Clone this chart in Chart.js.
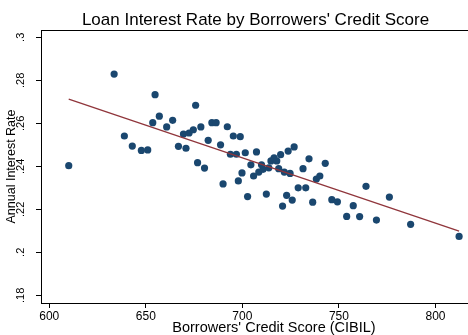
<!DOCTYPE html>
<html>
<head>
<meta charset="utf-8">
<script src="https://cdn.jsdelivr.net/npm/chart.js@4/dist/chart.umd.min.js"></script>
<style>
  html, body { margin: 0; padding: 0; background: #fff; overflow: hidden; }
  #wrap { width: 511px; height: 335px; }
</style>
</head>
<body>
<div id="wrap"><canvas id="c" width="511" height="335"></canvas></div>
<script>
// Borrowers' CIBIL credit score and the annual interest rate they pay
const creditScore = [
  610.1, 633.6, 638.9, 643.0, 647.7, 651.0, 653.6, 654.8, 657.0, 660.8,
  663.9, 666.9, 669.5, 670.8, 672.4, 674.6, 675.8, 676.8, 678.5, 680.4,
  682.3, 684.2, 686.4, 688.7, 690.0, 692.2, 693.8, 695.3, 696.9, 697.9,
  698.9, 699.8, 701.5, 702.7, 704.4, 705.8, 707.3, 708.5, 709.9, 710.7,
  712.4, 713.7, 714.8, 716.4, 717.8, 718.8, 719.8, 720.8, 721.7, 722.9,
  723.7, 724.7, 725.8, 726.8, 728.9, 731.4, 732.8, 734.5, 736.4, 738.3,
  740.1, 742.9, 746.3, 749.2, 754.0, 757.4, 760.7, 764.0, 769.4, 776.1,
  787.1, 812.2
];
const interestRate = [
  0.2403, 0.2829, 0.2541, 0.2494, 0.2474, 0.2476, 0.2603, 0.2733, 0.2633, 0.2583,
  0.2614, 0.2493, 0.2550, 0.2484, 0.2555, 0.2570, 0.2684, 0.2417, 0.2583, 0.2392,
  0.2521, 0.2603, 0.2603, 0.2500, 0.2318, 0.2584, 0.2456, 0.2541, 0.2456, 0.2332,
  0.2538, 0.2369, 0.2463, 0.2259, 0.2407, 0.2355, 0.2467, 0.2373, 0.2407, 0.2386,
  0.2271, 0.2393, 0.2425, 0.2439, 0.2425, 0.2389, 0.2454, 0.2215, 0.2373, 0.2265,
  0.2471, 0.2367, 0.2243, 0.2490, 0.2300, 0.2389, 0.2300, 0.2435, 0.2233, 0.2341,
  0.2355, 0.2414, 0.2245, 0.2235, 0.2167, 0.2217, 0.2166, 0.2307, 0.2150, 0.2257,
  0.2130, 0.2074
];

// Linear fit endpoints
const fitScore = [610.1, 812.2];
const fitRate = [0.2712, 0.2099];

// Axis ticks
const xTicks = [600, 650, 700, 750, 800];
const yTicks = [0.18, 0.20, 0.22, 0.24, 0.26, 0.28, 0.30];
const yTickLabels = ['.18', '.2', '.22', '.24', '.26', '.28', '.3'];

const FONT = "'Liberation Sans', Arial, Helvetica, sans-serif";
const points = creditScore.map((s, i) => ({ x: s, y: interestRate[i] }));
const fitLine = fitScore.map((s, i) => ({ x: s, y: fitRate[i] }));

new Chart(document.getElementById('c'), {
  type: 'scatter',
  data: {
    datasets: [
      {
        type: 'line',
        data: fitLine,
        borderColor: '#90353b',
        borderWidth: 1.3,
        pointRadius: 0,
        fill: false,
        tension: 0
      },
      {
        data: points,
        backgroundColor: '#1a476f',
        borderColor: '#1a476f',
        borderWidth: 0,
        pointRadius: 3.6
      }
    ]
  },
  options: {
    responsive: false,
    animation: false,
    devicePixelRatio: 1,
    layout: { padding: 0 },
    plugins: {
      legend: { display: false },
      tooltip: { enabled: false },
      title: {
        display: true,
        text: "Loan Interest Rate by Borrowers' Credit Score",
        color: '#000',
        font: { family: FONT, size: 17, weight: 'normal', lineHeight: 1 },
        padding: { top: 11.5, bottom: 1.5 }
      }
    },
    scales: {
      x: {
        type: 'linear',
        position: 'bottom',
        min: 595.74,
        max: 837.0,
        afterBuildTicks: (s) => { s.ticks = xTicks.map(v => ({ value: v })); },
        afterFit: (s) => { s.height = 32; },
        grid: { display: true, drawOnChartArea: false, drawTicks: true, tickLength: 5, color: '#000', tickWidth: 1 },
        border: { display: true, color: '#000', width: 1 },
        ticks: {
          color: '#000',
          font: { family: FONT, size: 12 },
          padding: 1,
          maxRotation: 0,
          callback: (v) => String(v)
        },
        title: {
          display: true,
          text: "Borrowers' Credit Score (CIBIL)",
          color: '#000',
          font: { family: FONT, size: 14.5, lineHeight: 1 },
          padding: { top: 0, bottom: 0 }
        }
      },
      xTop: {
        type: 'linear',
        position: 'top',
        min: 595.74,
        max: 837.0,
        afterFit: (s) => { s.height = 0; },
        grid: { display: false },
        ticks: { display: false },
        border: { display: true, color: '#000', width: 1 }
      },
      y: {
        type: 'linear',
        position: 'left',
        min: 0.17642,
        max: 0.30340,
        afterBuildTicks: (s) => { s.ticks = yTicks.map(v => ({ value: v })); },
        afterFit: (s) => { s.width = 41; },
        grid: { display: true, drawOnChartArea: false, drawTicks: true, tickLength: 5, color: '#000', tickWidth: 1 },
        border: { display: true, color: '#000', width: 1 },
        ticks: {
          color: '#000',
          font: { family: FONT, size: 11 },
          minRotation: 90,
          maxRotation: 90,
          crossAlign: 'center',
          padding: 7,
          callback: (v, i) => yTickLabels[i]
        },
        title: {
          display: true,
          text: 'Annual Interest Rate',
          color: '#000',
          font: { family: FONT, size: 12.5 },
          padding: { top: 4, bottom: 0 }
        }
      }
    }
  }
});
</script>
</body>
</html>
